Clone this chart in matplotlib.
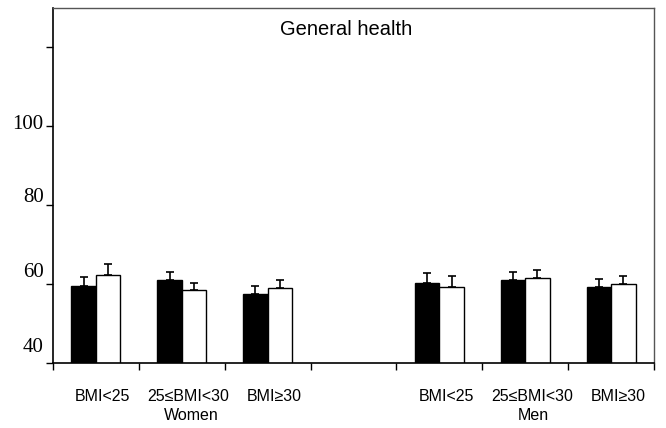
import matplotlib.pyplot as plt
import numpy as np
from matplotlib.transforms import offset_copy

# data (mean scores, upper error)
groups = ["Women", "Men"]
bmi_labels = ["BMI<25", "25≤BMI<30", "BMI≥30"]
women_black = [59.5, 61.1, 57.5]
women_white = [62.3, 58.4, 58.9]
men_black = [60.4, 61.1, 59.2]
men_white = [59.2, 61.6, 60.0]
women_black_err = [2.2, 1.9, 2.1]
women_white_err = [2.8, 1.9, 2.1]
men_black_err = [2.4, 2.0, 2.0]
men_white_err = [2.8, 2.1, 2.0]
yticks = [40, 60, 80, 100, 120]
ytick_labels = ["40", "60", "80", "100", ""]

# slot positions: three women groups, an empty slot, three men groups
slots = np.array([0, 1, 2, 4, 5, 6])
black = women_black + men_black
white = women_white + men_white
black_err = women_black_err + men_black_err
white_err = women_white_err + men_white_err
width = 0.285

fig = plt.figure(figsize=(6.66, 4.28), dpi=100)
ax = fig.add_axes([53 / 666, 65 / 428, 601 / 666, 355 / 428])

ax.bar(slots - width / 2, black, width, color="black",
       edgecolor="black", linewidth=1.0, zorder=2)
ax.bar(slots + width / 2, white, width, color="white",
       edgecolor="black", linewidth=1.0, zorder=2)
ax.errorbar(slots - width / 2, black, yerr=[np.zeros(6), black_err],
            fmt="none", ecolor="black", elinewidth=1.2, capsize=3,
            capthick=1.2, zorder=1)
ax.errorbar(slots + width / 2, white, yerr=[np.zeros(6), white_err],
            fmt="none", ecolor="black", elinewidth=1.2, capsize=3,
            capthick=1.2, zorder=1)

ax.set_xlim(-0.5, 6.5)
ax.set_ylim(40, 130)

ax.set_yticks(yticks)
ax.set_yticklabels([])
# the labels in the original sit a little above their ticks
label_shift = [16, 12, 8, 2, 0]
for v, lab, dy in zip(yticks, ytick_labels, label_shift):
    tr = offset_copy(ax.get_yaxis_transform(), fig=fig, x=-9.5, y=dy,
                     units="dots")
    ax.text(0, v, lab, transform=tr, ha="right", va="center",
            family="Liberation Serif", fontsize=15)

ax.set_xticks(np.arange(-0.5, 7.0, 1.0))
ax.set_xticklabels([])
ax.tick_params(axis="both", direction="out", length=5, width=1.0,
               color="black", pad=1)

for side in ["left", "bottom"]:
    ax.spines[side].set_linewidth(1.2)
    ax.spines[side].set_color("black")
for side in ["top", "right"]:
    ax.spines[side].set_linewidth(1.0)
    ax.spines[side].set_color("#555555")

# category labels under the axis
trans = ax.get_xaxis_transform()
for s, lab in zip(slots, bmi_labels * 2):
    ax.text(s + 0.08, -0.093, lab, transform=trans, ha="center",
            va="center", family="Liberation Sans", fontsize=11.5)
ax.text(1.11, -0.148, groups[0], transform=trans, ha="center", va="center",
        family="Liberation Sans", fontsize=11.5)
ax.text(5.09, -0.148, groups[1], transform=trans, ha="center", va="center",
        family="Liberation Sans", fontsize=11.5)

ax.text(0.4875, 0.94, "General health", transform=ax.transAxes,
        ha="center", va="center", family="Liberation Sans", fontsize=14.5)

fig.savefig("out.png", dpi=100)
